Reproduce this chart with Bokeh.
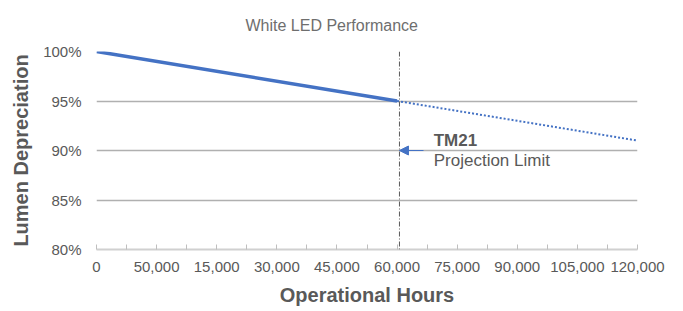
from bokeh.plotting import figure
from bokeh.models import (Range1d, FixedTicker, Span, Arrow, NormalHead, Label)
from bokeh.embed import file_html
from bokeh.resources import INLINE

# Data
title_text = "White LED Performance"
tick_labels = ["0", "50,000", "15,000", "30,000", "45,000", "60,000",
               "75,000", "90,000", "105,000", "120,000"]
tick_pos = list(range(len(tick_labels)))
measured_x = [0, 5]
measured_y = [100, 95]
projected_x = [5, 9]
projected_y = [95, 91]
limit_x = 5.04
y_ticks = [80, 85, 90, 95, 100]

FONT = "Liberation Sans"
GRAY = "#595959"
BLUE = "#4472C4"

p = figure(width=683, height=311, output_backend="svg", toolbar_location=None,
           x_range=Range1d(0, 9), y_range=Range1d(80, 100),
           min_border_left=96, min_border_right=46, min_border_top=51,
           min_border_bottom=62)
p.outline_line_color = None
p.background_fill_color = "white"

p.title.text = title_text
p.title.align = "left"
p.title.offset = 149
p.title.vertical_align = "top"
p.title.standoff = 32
p.title.text_font = FONT
p.title.text_font_style = "normal"
p.title.text_font_size = "16px"
p.title.text_color = "#6e6e6e"

# grid
p.xgrid.grid_line_color = None
p.ygrid.ticker = FixedTicker(ticks=y_ticks)
p.ygrid.grid_line_color = "#b0b0b0"
p.ygrid.grid_line_width = 1.5

# y axis
ya = p.yaxis[0]
ya.ticker = FixedTicker(ticks=y_ticks)
ya.major_label_overrides = {v: f"{v}%" for v in y_ticks}
ya.axis_line_color = None
ya.major_tick_line_color = None
ya.minor_tick_line_color = None
ya.major_tick_out = 0
ya.major_tick_in = 0
ya.minor_tick_out = 0
ya.major_label_text_font = FONT
ya.major_label_text_font_size = "15px"
ya.major_label_text_color = GRAY
ya.major_label_standoff = 15
ya.axis_label = "Lumen Depreciation"
ya.axis_label_text_font = FONT
ya.axis_label_text_font_style = "bold"
ya.axis_label_text_font_size = "20px"
ya.axis_label_text_color = GRAY
ya.axis_label_standoff = 8

# x axis
xa = p.xaxis[0]
xa.ticker = FixedTicker(ticks=tick_pos, minor_ticks=[t + 0.5 for t in tick_pos[:-1]])
xa.major_label_overrides = {i: lab for i, lab in zip(tick_pos, tick_labels)}
xa.axis_line_color = "#d0d0d0"
xa.axis_line_width = 2
xa.major_tick_line_color = "#bfbfbf"
xa.minor_tick_line_color = "#bfbfbf"
xa.major_tick_in = 5
xa.major_tick_out = 0
xa.minor_tick_in = 5
xa.minor_tick_out = 0
xa.major_label_text_font = FONT
xa.major_label_text_font_size = "15px"
xa.major_label_text_color = GRAY
xa.major_label_standoff = 12
xa.axis_label = "Operational Hours"
xa.axis_label_text_font = FONT
xa.axis_label_text_font_style = "bold"
xa.axis_label_text_font_size = "20px"
xa.axis_label_text_color = GRAY
xa.axis_label_standoff = 9

# lines
p.line(measured_x, measured_y, line_color=BLUE, line_width=3.5)
p.line(projected_x, projected_y, line_color=BLUE, line_width=2, line_dash="2 2")

# limit line
p.add_layout(Span(location=limit_x, dimension="height", line_color=GRAY,
                  line_width=1, line_dash="5 2 1 2"))

p.add_layout(Arrow(x_start=5.44, y_start=90, x_end=limit_x, y_end=90,
                   line_color=BLUE, line_width=1.2,
                   end=NormalHead(size=9, fill_color=BLUE, line_color=BLUE)))

p.add_layout(Label(x=5.61, y=91.0, text="TM21", text_font=FONT,
                   text_font_style="bold", text_font_size="17px",
                   text_color=GRAY, text_baseline="middle"))
p.add_layout(Label(x=5.61, y=89.0, text="Projection Limit", text_font=FONT,
                   text_font_size="17px", text_color=GRAY, text_baseline="middle"))

open("out.html", "w").write(file_html(p, INLINE))
